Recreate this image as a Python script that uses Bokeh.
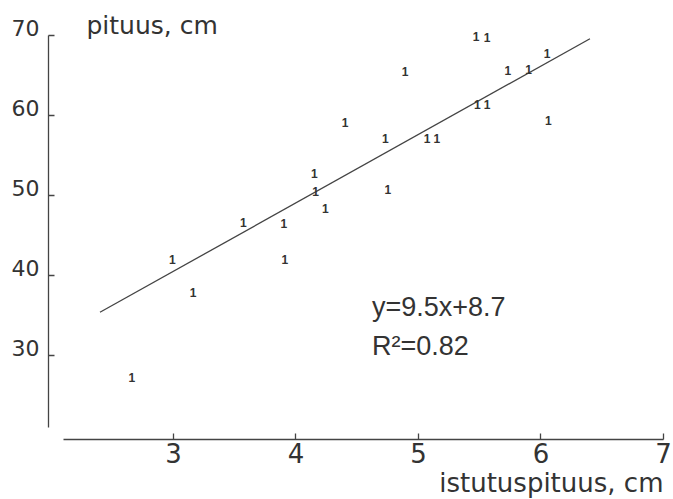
from bokeh.plotting import figure
from bokeh.models import Range1d, FixedTicker, CustomJSTickFormatter
from bokeh.core.properties import value
from bokeh.embed import file_html
from bokeh.resources import INLINE

# ---- data ----
plant_x = [2.66, 2.99, 3.16, 3.57, 3.90, 3.91, 4.15, 4.16, 4.24, 4.40, 4.73, 4.75,
           4.89, 5.07, 5.15, 5.47, 5.56, 5.48, 5.56, 5.73, 5.90, 6.05, 6.06]
plant_y = [27.3, 42.0, 37.9, 46.6, 46.5, 42.0, 52.8, 50.5, 48.4, 59.1, 57.1, 50.8,
           65.5, 57.1, 57.1, 69.9, 69.8, 61.4, 61.4, 65.6, 65.8, 67.8, 59.4]
marker_text = ["1"] * len(plant_x)

fit_x = [2.40, 6.40]
fit_y = [35.4, 69.6]

x_ticks = [3, 4, 5, 6, 7]
y_ticks = [30, 40, 50, 60, 70]
y_tick_labels = ["30", "40", "50", "60", "70"]

x_title = "istutuspituus, cm"
y_title = "pituus, cm"
eq_text = ["y=9.5x+8.7", "R²=0.82"]

INK = "#333333"
LINE = "#444444"
FONT = "DejaVu Sans"

X_AXIS_AT = 1.98   # where the y axis stands
Y_AXIS_AT = 19.5   # where the x axis stands

p = figure(width=673, height=499, output_backend="svg", toolbar_location=None,
           x_range=Range1d(1.588, 7.082), y_range=Range1d(12.0, 74.375),
           min_border_left=0, min_border_right=0, min_border_top=0, min_border_bottom=0)
p.outline_line_color = None
p.grid.visible = False
p.background_fill_color = "white"
p.border_fill_color = "white"

# x axis, placed inside the frame
xa = p.xaxis[0]
xa.fixed_location = Y_AXIS_AT
xa.ticker = FixedTicker(ticks=x_ticks)
xa.bounds = (2.1, 7.0)
xa.major_tick_in = 6
xa.major_tick_out = 0
xa.minor_tick_line_color = None
xa.axis_line_color = LINE
xa.axis_line_width = 1.3
xa.major_tick_line_color = LINE
xa.major_tick_line_width = 1.3
xa.major_label_text_font = FONT
xa.major_label_text_font_size = "26px"
xa.major_label_text_color = INK
xa.major_label_standoff = 3

# y axis, placed inside the frame; its labels are drawn just above their ticks
ya = p.yaxis[0]
ya.fixed_location = X_AXIS_AT
ya.ticker = FixedTicker(ticks=y_ticks)
ya.bounds = (21, 70)
ya.major_tick_in = 6
ya.major_tick_out = 0
ya.minor_tick_line_color = None
ya.axis_line_color = LINE
ya.axis_line_width = 1.3
ya.major_tick_line_color = LINE
ya.major_tick_line_width = 1.3
ya.formatter = CustomJSTickFormatter(code="return ''")
ya.major_label_standoff = 0

p.text(x=[X_AXIS_AT] * len(y_ticks), y=y_ticks, text=y_tick_labels, x_offset=-9, y_offset=-8,
       text_align="right", text_baseline="middle",
       text_font=value(FONT), text_font_size="22px", text_color=INK)

# regression line
p.line(fit_x, fit_y, line_color=LINE, line_width=1.3)

# observations, plotted as "1" symbols
p.text(x=plant_x, y=plant_y, text=marker_text, text_align="center", text_baseline="middle",
       text_font=value("Liberation Sans"), text_font_size="12px", text_color=INK,
       text_font_style="bold")

# titles and equation
p.text(x=[2.29], y=[71.25], text=[y_title], text_align="left", text_baseline="middle",
       text_font=value(FONT), text_font_size="25px", text_color=INK)
p.text(x=[4.62, 4.62], y=[36.1, 31.25], text=eq_text, text_align="left",
       text_baseline="middle", text_font=value("Liberation Sans"),
       text_font_size="27px", text_color=INK)
p.text(x=[7.0], y=[14.1], text=[x_title], text_align="right", text_baseline="middle",
       text_font=value(FONT), text_font_size="26px", text_color=INK)

open("out.html", "w").write(file_html(p, INLINE))
